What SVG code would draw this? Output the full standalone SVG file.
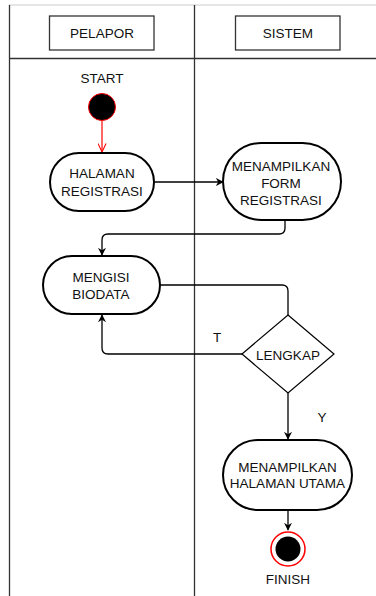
<svg xmlns="http://www.w3.org/2000/svg" width="376" height="596" viewBox="0 0 376 596">
  <style>
    text { font-family: "Liberation Sans", Arial, sans-serif; font-size: 13.5px; fill: #111; text-anchor: middle; }
    .lane { stroke: #333; stroke-width: 1.3; fill: none; }
    .hdr { fill: #fff; stroke: #333; stroke-width: 1.3; }
    .act { fill: #fff; stroke: #000; stroke-width: 2; }
    .edge { fill: none; stroke: #000; stroke-width: 1.3; }
  </style>
  <defs>
    <marker id="arr" viewBox="0 0 10 10" refX="9" refY="5" markerWidth="8" markerHeight="8" markerUnits="userSpaceOnUse" orient="auto">
      <path d="M0,0 L10,5 L0,10 L3,5 Z" fill="#000"/>
    </marker>
    <marker id="open" viewBox="0 0 10 10" refX="9.5" refY="5" markerWidth="9" markerHeight="9" markerUnits="userSpaceOnUse" orient="auto">
      <path d="M0,0.5 L9.5,5 L0,9.5" fill="none" stroke="#f00" stroke-width="1.2"/>
    </marker>
  </defs>

  <rect width="376" height="596" fill="#fff"/>

  <!-- swimlanes -->
  <g id="lanes">
    <line x1="9" y1="5" x2="376" y2="5" stroke="#ccc" stroke-width="1"/>
    <line x1="9.5" y1="5" x2="9.5" y2="596" class="lane"/>
    <line x1="194.5" y1="5" x2="194.5" y2="596" class="lane"/>
    <line x1="9" y1="58.5" x2="376" y2="58.5" class="lane"/>
  </g>

  <g id="lane-pelapor">
    <rect x="49.5" y="16" width="104.5" height="34" class="hdr"/>
    <text x="102" y="38">PELAPOR</text>
  </g>
  <g id="lane-sistem">
    <rect x="235.5" y="16" width="104.5" height="34" class="hdr"/>
    <text x="288" y="38">SISTEM</text>
  </g>

  <!-- connectors -->
  <g id="connectors">
    <line x1="102" y1="121" x2="102" y2="152" stroke="#f00" stroke-width="1.2" marker-end="url(#open)"/>
    <line x1="154" y1="182" x2="223" y2="182" class="edge" marker-end="url(#arr)"/>
    <path d="M285 220 L285 228 Q285 234 279 234 L108 234 Q102 234 102 240 L102 255" class="edge" marker-end="url(#arr)"/>
    <path d="M160 285 L282 285 Q288 285 288 291 L288 315" class="edge"/>
    <path d="M242 354 L108 354 Q102 354 102 348 L102 315" class="edge" marker-end="url(#arr)"/>
    <line x1="288" y1="393" x2="288" y2="439" class="edge" marker-end="url(#arr)"/>
    <line x1="288" y1="510" x2="288" y2="530" class="edge" marker-end="url(#arr)"/>
    <text x="217" y="342">T</text>
    <text x="322" y="422">Y</text>
  </g>

  <g id="start">
    <text x="102" y="83">START</text>
    <circle cx="102" cy="107" r="13.5" fill="#000" stroke="#f00" stroke-width="1"/>
  </g>

  <g id="halaman-registrasi">
    <rect x="50" y="153" width="104" height="58" rx="29" class="act"/>
    <text x="102" y="178">HALAMAN</text>
    <text x="102" y="196">REGISTRASI</text>
  </g>

  <g id="menampilkan-form">
    <rect x="223" y="143" width="118" height="77" rx="38.5" class="act"/>
    <text x="281" y="171">MENAMPILKAN</text>
    <text x="281" y="188">FORM</text>
    <text x="281" y="205">REGISTRASI</text>
  </g>

  <g id="mengisi-biodata">
    <rect x="43" y="256" width="117" height="58" rx="29" class="act"/>
    <text x="101" y="282">MENGISI</text>
    <text x="101" y="299">BIODATA</text>
  </g>

  <g id="lengkap">
    <path d="M288 315 L334 354 L288 393 L242 354 Z" fill="#fff" stroke="#000" stroke-width="1.2"/>
    <text x="288" y="360">LENGKAP</text>
  </g>

  <g id="menampilkan-halaman-utama">
    <rect x="223" y="440" width="129" height="70" rx="35" class="act"/>
    <text x="287.5" y="472">MENAMPILKAN</text>
    <text x="287.5" y="488">HALAMAN UTAMA</text>
  </g>

  <g id="finish">
    <circle cx="288" cy="549" r="17" fill="#fff" stroke="#f00" stroke-width="1.5"/>
    <circle cx="288" cy="549" r="12.5" fill="#000"/>
    <text x="288" y="584">FINISH</text>
  </g>
</svg>
